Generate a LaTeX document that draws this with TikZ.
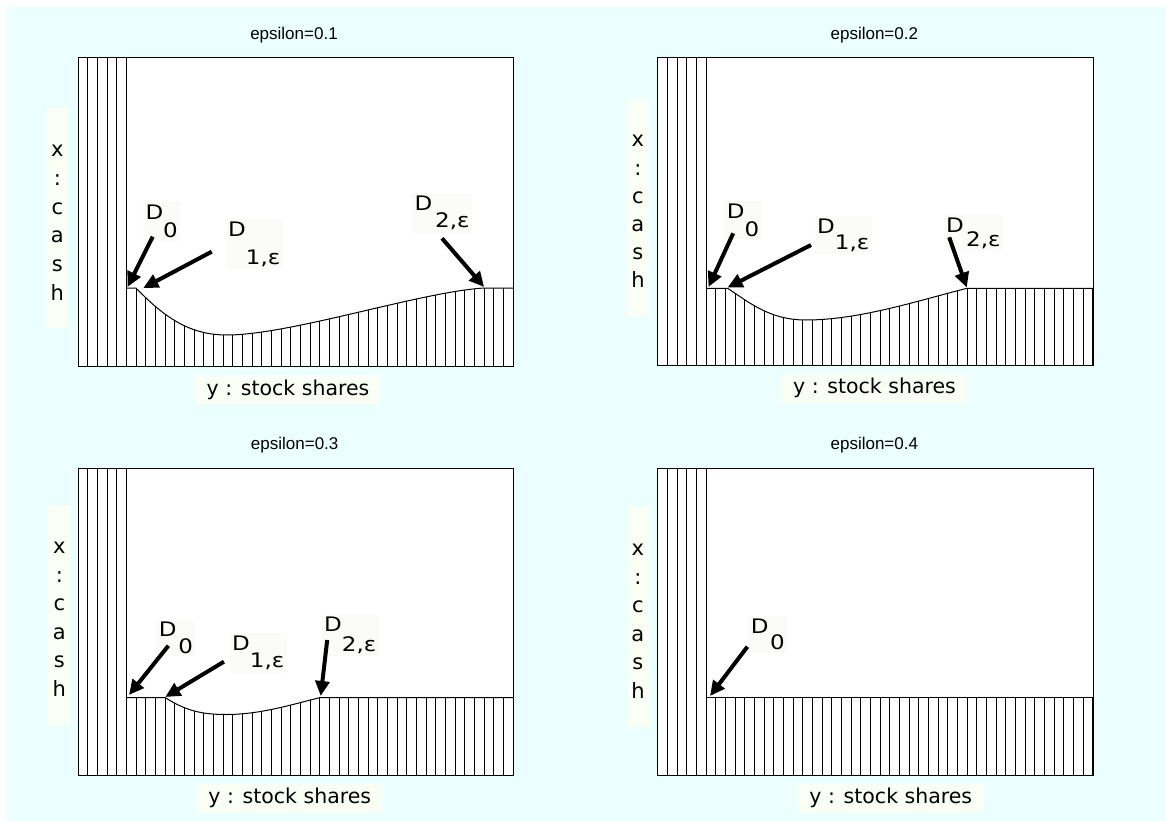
\documentclass[tikz,border=0pt]{standalone}
\usepackage{fontspec}
\usetikzlibrary{arrows.meta}
\newfontfamily\dvfont{DejaVu Sans}
\newfontfamily\libfont{Liberation Sans}
\definecolor{bgcyan}{RGB}{236,255,255}
\definecolor{labfill}{RGB}{250,255,245}
\definecolor{dfill}{RGB}{251,251,249}
\newcommand{\dlab}[3]{\scalebox{1.15}[1]{D\hspace{#2}\raisebox{-#1}{#3}}}
\newcommand{\hw}{9.6667}
\begin{document}
\begin{tikzpicture}[x=1pt,y=-1pt,
  frame/.style={draw=black,line width=1pt},
  hatch/.style={draw=black,line width=0.9pt},
  curveline/.style={draw=black,line width=1pt},
  arr/.style={line width=4pt,-{Triangle[length=15pt,width=14pt]}},
  ttl/.style={font=\libfont\fontsize{17}{20}\selectfont,anchor=base,inner sep=0pt},
  axl/.style={font=\dvfont\fontsize{21}{24}\selectfont,anchor=base,inner sep=0pt},
  axbox/.style={fill=labfill,draw=none,inner sep=0pt},
  ylab/.style={fill=labfill,font=\dvfont\fontsize{20.5}{24}\selectfont,inner sep=0pt,minimum height=29pt},
  dl/.style={fill=dfill,font=\dvfont\fontsize{20}{24}\selectfont,inner sep=2.5pt,anchor=base west}]

\useasboundingbox (0,0) rectangle (1166,821);
\fill[white] (0,0) rectangle (1166,821);
\fill[bgcyan] (7,7) rectangle (1166,821);

% ================= Panel 1 =================
\node[ttl] (t1) at (294,39.3) {epsilon=0.1};
\fill[white] (78,58) rectangle (513,366);
\foreach \k in {0,...,5} \draw[hatch] ({78+\k*\hw},58) -- ({78+\k*\hw},366);
\begin{scope}
\clip (126.33,288) -- (136,288) .. controls (165,318) and (190,335) .. (227,335)
  .. controls (290,335) and (420,292) .. (484,288) -- (513,288) -- (513,366) -- (126.33,366) -- cycle;
\foreach \k in {5,...,45} \draw[hatch] ({78+\k*\hw},280) -- ({78+\k*\hw},366);
\end{scope}
\draw[curveline] (126.33,288) -- (136,288) .. controls (165,318) and (190,335) .. (227,335)
  .. controls (290,335) and (420,292) .. (484,288) -- (513,288);
\draw[frame] (78,58) rectangle (513,366);
\node[axbox,minimum width=21pt,minimum height=220pt] (xb1) at (57.5,218) {};
\foreach \ch [count=\i from 0] in {x,:,c,a,s,h}
  \node[axl] (xa1\i) at (57.4,{157+28.6*\i}) {\ch};
\node[ylab,minimum width=186pt] (yl1) at (288,389.5) {y : stock shares};
\node[dl] (d01) at (142.8,219.3) {\dlab{18.6pt}{0pt}{0}};
\node[dl] (d11) at (225.5,236) {\dlab{28.6pt}{0pt}{1,ε}};
\node[dl] (d21) at (411.9,210.7) {\dlab{17.2pt}{2.5pt}{2,ε}};
\coordinate (a01) at (152.7,236.7); \coordinate (p01) at (127.5,287);
\coordinate (a11) at (211.7,251.7); \coordinate (p11) at (143.3,288);
\coordinate (a21) at (442,238.3);   \coordinate (p21) at (484.1,287);
\draw[arr] (a01) -- (p01);
\draw[arr] (a11) -- (p11);
\draw[arr] (a21) -- (p21);

% ================= Panel 2 =================
\node[ttl] (t2) at (874.3,39.3) {epsilon=0.2};
\fill[white] (657.7,58) rectangle (1093,365.7);
\foreach \k in {0,...,5} \draw[hatch] ({657.7+\k*\hw},58) -- ({657.7+\k*\hw},365.7);
\begin{scope}
\clip (706,288.3) -- (727.6,288.3) .. controls (750,303) and (770,320) .. (806,320)
  .. controls (860,320) and (920,300) .. (967,288.3) -- (1093,288.3) -- (1093,365.7) -- (706,365.7) -- cycle;
\foreach \k in {5,...,45} \draw[hatch] ({657.7+\k*\hw},280) -- ({657.7+\k*\hw},365.7);
\end{scope}
\draw[curveline] (706,288.3) -- (727.6,288.3) .. controls (750,303) and (770,320) .. (806,320)
  .. controls (860,320) and (920,300) .. (967,288.3) -- (1093,288.3);
\draw[frame] (657.7,58) rectangle (1093,365.7);
\node[axbox,minimum width=22.3pt,minimum height=219.3pt] (xb2) at (637.9,207.4) {};
\foreach \ch [count=\i from 0] in {x,:,c,a,s,h}
  \node[axl] (xa2\i) at (637.9,{147+28.1*\i}) {\ch};
\node[ylab,minimum width=185pt] (yl2) at (874.5,388) {y : stock shares};
\node[dl] (d02) at (724.2,218) {\dlab{18.3pt}{0pt}{0}};
\node[dl] (d12) at (814.5,233) {\dlab{16.6pt}{0pt}{1,ε}};
\node[dl] (d22) at (943.5,232) {\dlab{14pt}{2pt}{2,ε}};
\coordinate (a02) at (733.2,233.3); \coordinate (p02) at (708.5,287);
\coordinate (a12) at (811,245);     \coordinate (p12) at (727.6,287.5);
\coordinate (a22) at (949.2,237.3); \coordinate (p22) at (966.8,287.5);
\draw[arr] (a02) -- (p02);
\draw[arr] (a12) -- (p12);
\draw[arr] (a22) -- (p22);

% ================= Panel 3 =================
\node[ttl] (t3) at (294.7,449.5) {epsilon=0.3};
\fill[white] (78,468.3) rectangle (513,775);
\foreach \k in {0,...,5} \draw[hatch] ({78+\k*\hw},468.3) -- ({78+\k*\hw},775);
\begin{scope}
\clip (126.33,697.7) -- (165.3,697.7) .. controls (185,710) and (200,714.5) .. (226,714.5)
  .. controls (260,714.5) and (290,705) .. (319.6,697.7) -- (513,697.7) -- (513,775) -- (126.33,775) -- cycle;
\foreach \k in {5,...,45} \draw[hatch] ({78+\k*\hw},690) -- ({78+\k*\hw},775);
\end{scope}
\draw[curveline] (126.33,697.7) -- (165.3,697.7) .. controls (185,710) and (200,714.5) .. (226,714.5)
  .. controls (260,714.5) and (290,705) .. (319.6,697.7) -- (513,697.7);
\draw[frame] (78,468.3) rectangle (513,775);
\node[axbox,minimum width=23pt,minimum height=220pt] (xb3) at (59.3,615) {};
\foreach \ch [count=\i from 0] in {x,:,c,a,s,h}
  \node[axl] (xa3\i) at (59.3,{553.5+28.5*\i}) {\ch};
\node[ylab,minimum width=186pt] (yl3) at (289.8,798.3) {y : stock shares};
\node[dl] (d03) at (156.2,636.7) {\dlab{16.8pt}{1.5pt}{0}};
\node[dl] (d13) at (229.5,650) {\dlab{17.9pt}{0pt}{1,ε}};
\node[dl] (d23) at (321.5,631.7) {\dlab{19.6pt}{0pt}{2,ε}};
\coordinate (a03) at (168.4,645.7); \coordinate (p03) at (129,695);
\coordinate (a13) at (223.9,661.7); \coordinate (p13) at (165.3,697);
\coordinate (a23) at (327.2,640);   \coordinate (p23) at (320.7,696);
\draw[arr] (a03) -- (p03);
\draw[arr] (a13) -- (p13);
\draw[arr] (a23) -- (p23);

% ================= Panel 4 =================
\node[ttl] (t4) at (874.3,449.5) {epsilon=0.4};
\fill[white] (657.7,468.3) rectangle (1093,775);
\foreach \k in {0,...,5} \draw[hatch] ({657.7+\k*\hw},468.3) -- ({657.7+\k*\hw},775);
\foreach \k in {5,...,45} \draw[hatch] ({657.7+\k*\hw},697.7) -- ({657.7+\k*\hw},775);
\draw[curveline] (706,697.7) -- (1093,697.7);
\draw[frame] (657.7,468.3) rectangle (1093,775);
\node[axbox,minimum width=22.5pt,minimum height=220pt] (xb4) at (638.8,617.3) {};
\foreach \ch [count=\i from 0] in {x,:,c,a,s,h}
  \node[axl] (xa4\i) at (637.9,{555.5+28.6*\i}) {\ch};
\node[ylab,minimum width=185.6pt] (yl4) at (890.8,798.3) {y : stock shares};
\node[dl] (d04) at (748.1,633.3) {\dlab{16.5pt}{1.3pt}{0}};
\coordinate (a04) at (747.4,646.7); \coordinate (p04) at (710,696);
\draw[arr] (a04) -- (p04);
\end{tikzpicture}
\end{document}
